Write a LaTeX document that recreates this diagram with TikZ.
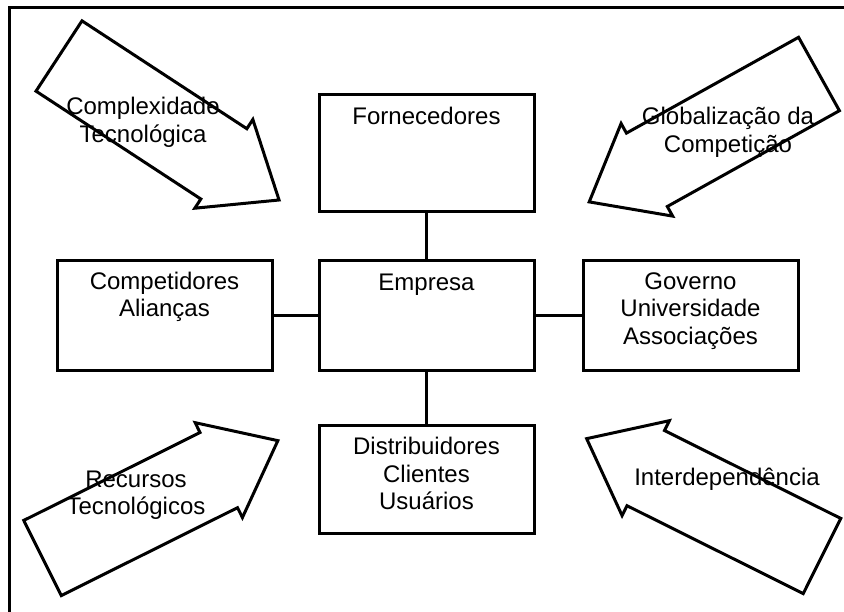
\documentclass[tikz,border=0pt]{standalone}
\usepackage{fontspec}
\setmainfont{Liberation Sans}
\usetikzlibrary{calc}
\def\blockarrow(#1)(#2){\draw[bigarrow,shift={(#1)},rotate=#2] (0,-42) -- (197,-42) -- (197,-53) -- (263,0) -- (197,53) -- (197,42) -- (0,42) -- cycle;}

\begin{document}
\begin{tikzpicture}[x=1pt,y=-1pt,
    box/.style={draw,line width=3pt,minimum width=215pt,inner sep=0pt},
    link/.style={line width=3pt},
    bigarrow/.style={line width=3pt},
    txt/.style={font=\fontsize{24}{27.5}\selectfont,align=center,anchor=base,inner sep=0pt}]
    %%%%% START %%%%%
    \useasboundingbox (0,0) rectangle (844,612);
    \draw[link] (9,612) -- (9,8) -- (844,8);

    % boxes
    \node[box,minimum height=117pt] (forn) at (426.5,153.5) {};
    \node[box,minimum height=110pt] (emp) at (426.5,316) {};
    \node[box,minimum height=107pt] (dist) at (426.5,479.5) {};
    \node[box,minimum height=110pt] (comp) at (164.5,316) {};
    \node[box,minimum height=110pt] (gov) at (690.5,316) {};

    % base = last line
    \node[txt] (fornt) at ($(forn.north)+(0,31)$) {Fornecedores};
    \node[txt] (empt) at ($(emp.north)+(0,31)$) {Empresa};
    \node[txt] (distt) at ($(dist.north)+(0,85)$) {Distribuidores\\Clientes\\Usuários};
    \node[txt] (compt) at ($(comp.north)+(0,57.5)$) {Competidores\\Alianças};
    \node[txt] (govt) at ($(gov.north)+(0,85)$) {Governo\\Universidade\\Associações};

    \draw[link] (forn.south) -- (emp.north);
    \draw[link] (emp.south) -- (dist.north);
    \draw[link] (comp.east) -- (emp.west);
    \draw[link] (emp.east) -- (gov.west);

    % big arrows
    \blockarrow(59,56)(-33.2)
    \blockarrow(819,74)(-150.9)
    \blockarrow(42.5,558)(26.5)
    \blockarrow(822,556)(153.5)

    \node[txt] (cplx) at (143,142.5) {Complexidade\\Tecnológica};
    \node[txt] (glob) at (728,152.5) {Globalização da\\Competição};
    \node[txt] (recu) at (136,514.5) {Recursos\\Tecnológicos};
    \node[txt] (intd) at (727,485) {Interdependência};
    %%%%% END %%%%%
\end{tikzpicture}
\end{document}
